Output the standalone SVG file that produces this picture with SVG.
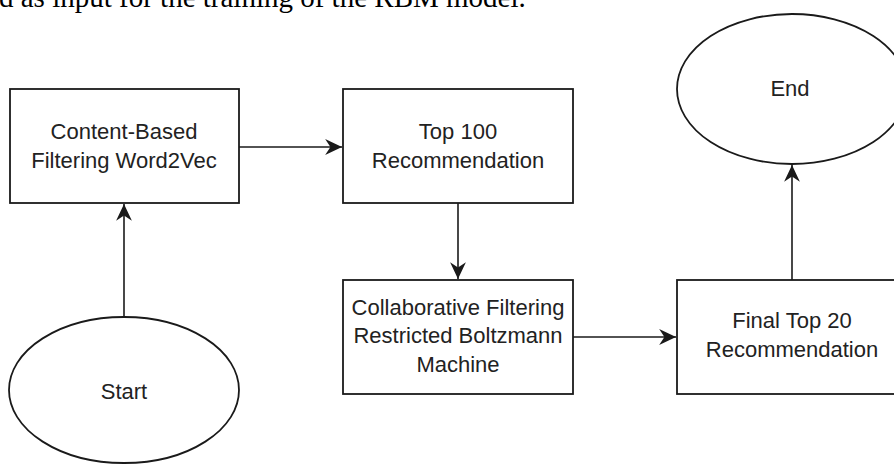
<svg xmlns="http://www.w3.org/2000/svg" width="894" height="465" viewBox="0 0 894 465">
  <style>
    .shape { fill: #ffffff; stroke: #1a1a1a; stroke-width: 1.8; }
    .label { font-family: "Liberation Sans", Arial, sans-serif; font-size: 22px; fill: #222222; text-anchor: middle; }
    .edge { fill: none; stroke: #1a1a1a; stroke-width: 1.6; }
    .caption { font-family: "Liberation Serif", "Times New Roman", serif; font-size: 29px; fill: #000000; }
  </style>
  <defs>
    <marker id="arrow" markerUnits="userSpaceOnUse" markerWidth="20" markerHeight="20" viewBox="-17 -9 19 18" refX="0" refY="0" orient="auto">
      <path d="M0,0 L-16,-7.5 L-11,0 L-16,7.5 Z" fill="#1a1a1a"/>
    </marker>
  </defs>
  <rect width="894" height="465" fill="#ffffff"/>
  <text class="caption" x="-1" y="7">d as input for the training of the RBM model.</text>

  <g id="connectors">
    <line class="edge" x1="239" y1="147" x2="342" y2="147" marker-end="url(#arrow)"/>
    <line class="edge" x1="458" y1="203" x2="458" y2="279" marker-end="url(#arrow)"/>
    <line class="edge" x1="573" y1="337" x2="676" y2="337" marker-end="url(#arrow)"/>
    <line class="edge" x1="124" y1="316" x2="124" y2="204" marker-end="url(#arrow)"/>
    <line class="edge" x1="792" y1="280" x2="792" y2="165" marker-end="url(#arrow)"/>
  </g>

  <g id="start">
    <ellipse class="shape" cx="124" cy="390" rx="115" ry="73"/>
    <text class="label" x="124" y="399">Start</text>
  </g>

  <g id="content-based">
    <rect class="shape" x="10" y="89" width="229" height="114"/>
    <text class="label" x="124" y="139">Content-Based</text>
    <text class="label" x="124" y="168">Filtering Word2Vec</text>
  </g>

  <g id="top100">
    <rect class="shape" x="343" y="89" width="230" height="114"/>
    <text class="label" x="458" y="139">Top 100</text>
    <text class="label" x="458" y="168">Recommendation</text>
  </g>

  <g id="collaborative">
    <rect class="shape" x="343" y="280" width="230" height="114"/>
    <text class="label" x="458" y="315">Collaborative Filtering</text>
    <text class="label" x="458" y="343">Restricted Boltzmann</text>
    <text class="label" x="458" y="372">Machine</text>
  </g>

  <g id="final">
    <rect class="shape" x="677" y="280" width="230" height="114"/>
    <text class="label" x="792" y="328">Final Top 20</text>
    <text class="label" x="792" y="357">Recommendation</text>
  </g>

  <g id="end">
    <ellipse class="shape" cx="792" cy="89" rx="115" ry="75"/>
    <text class="label" x="790" y="96">End</text>
  </g>
</svg>
